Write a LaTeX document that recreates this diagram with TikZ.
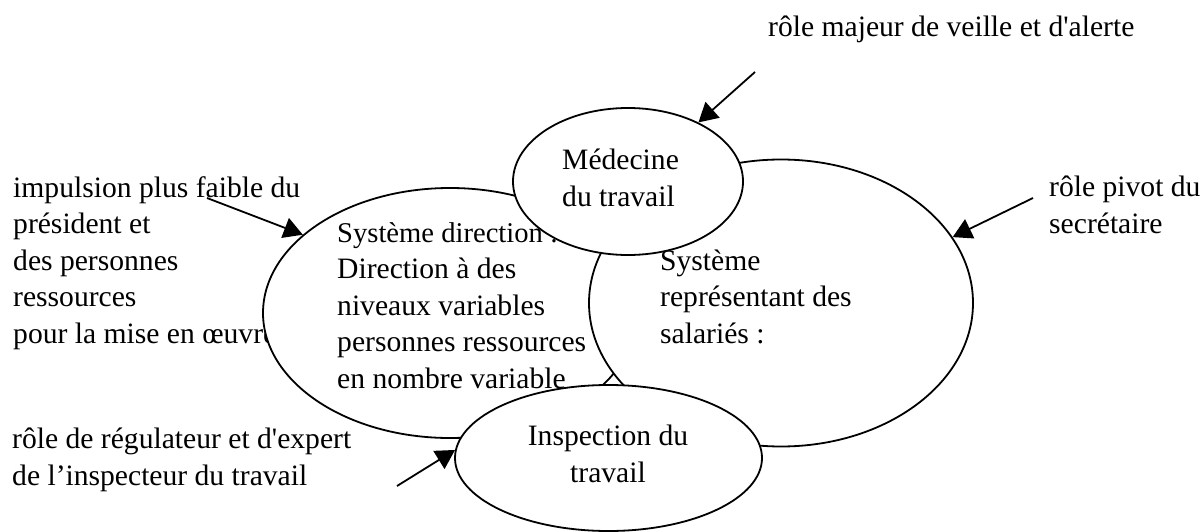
\documentclass[tikz,border=0pt]{standalone}
\usepackage{fontspec}
\setmainfont{Liberation Serif}[Ligatures=TeXOff]
\usetikzlibrary{shapes.geometric,arrows.meta}
\tikzset{
  sys/.style={ellipse, draw, fill=white, line width=1.8pt, inner sep=0pt},
  txt/.style={inner sep=0pt, anchor=base west, align=left},
  arr/.style={line width=1.8pt, -{Triangle[length=19pt,width=21pt]}},
}
\begin{document}
\begin{tikzpicture}[x=1pt,y=-1pt,font=\fontsize{29.6}{36.5}\selectfont]
\useasboundingbox (0,0) rectangle (1204,532);
% outer labels (anchor = baseline of the last line)
\node[txt] (lalerte) at (768,37) {rôle majeur de veille et d'alerte};
\node[txt] (limpulsion) at (13,343) {impulsion plus faible du\\président et\\des personnes\\ressources\\pour la mise en œuvre};
\node[txt] (lpivot) at (1049,233) {\fontsize{29.6}{32}\selectfont rôle pivot du\\secrétaire};
\node[txt] (lregul) at (12,485) {\fontsize{29.6}{37}\selectfont rôle de régulateur et d'expert\\de l’inspecteur du travail};
% systems
\node[sys, minimum width=374pt, minimum height=250pt] (dir) at (450,313) {};
\node[txt] (dirtext) at (337,388) {\fontsize{28.6}{33}\selectfont Système direction :\\Direction à des\\niveaux variables\\personnes ressources\\en nombre variable};
\node[sys, minimum width=384pt, minimum height=287pt] (rep) at (781,303) {};
\node[txt] (reptext) at (660,343) {\fontsize{29.6}{37.5}\selectfont Système\\représentant des\\salariés :};
\node[sys, minimum width=307pt, minimum height=146pt] (insp) at (608.5,458) {};
\node[txt, anchor=base, align=center] (insptext) at (608,482) {\fontsize{29.6}{39}\selectfont Inspection du\\travail};
\node[sys, minimum width=230pt, minimum height=147pt] (med) at (628,181.5) {};
\node[txt] (medtext) at (562,206) {\fontsize{29.6}{39}\selectfont Médecine\\du travail};
% arrow tails
\coordinate (s1) at (755,72);
\coordinate (s2) at (207,198);
\coordinate (s3) at (1033,198);
\coordinate (s4) at (397,486);
\draw[arr] (s1) -- (med.40);
\draw[arr] (s2) -- (dir.152.8);
\draw[arr] (s3) -- (rep.21);
\draw[arr] (s4) -- (insp.177);
\end{tikzpicture}
\end{document}
